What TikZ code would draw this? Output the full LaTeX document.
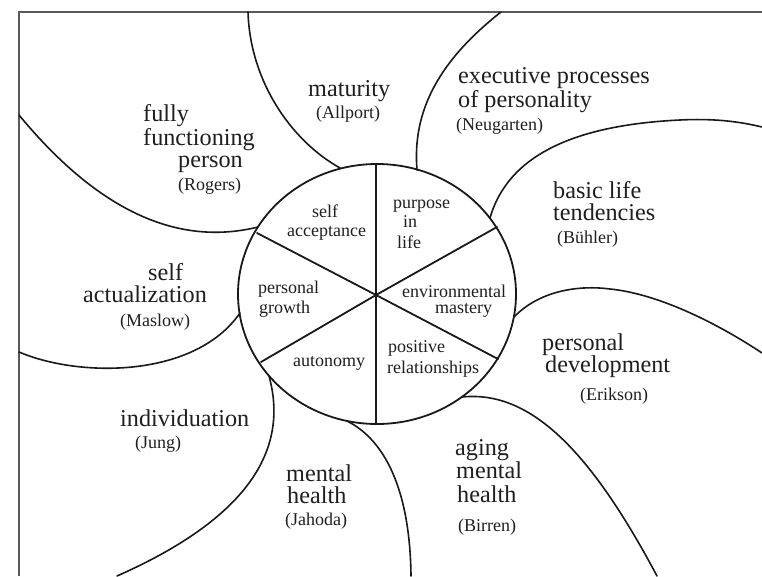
\documentclass[tikz,border=0pt]{standalone}
\usepackage{fontspec}
\setmainfont{Liberation Serif}
\begin{document}
\begin{tikzpicture}[x=1pt,y=-1pt,
  lblbig/.style={font=\fontsize{24.2}{26}\selectfont, anchor=base west, inner sep=0pt, text=black!88},
  lblsmall/.style={font=\fontsize{18}{20}\selectfont, anchor=base west, inner sep=0pt, text=black!88},
  petal/.style={line width=1.6pt, draw=black!90, line join=round, line cap=round},
  divider/.style={line width=1.8pt, draw=black!90, line cap=round},
  frameline/.style={line width=1.2pt, draw=black!65}]
\useasboundingbox (0,0) rectangle (762,576);
\fill[white] (0,0) rectangle (762,576);

% frame
\coordinate (tl) at (19,12);
\coordinate (tr) at (762,12);
\coordinate (bl) at (19,576);
\draw[frameline] (bl) -- (tl) -- (tr);

% central circle
\coordinate (ctr) at (377,294);
\coordinate (hub) at (376,295);
\draw[line width=1.8pt, draw=black!90] (ctr) ellipse [x radius=139pt, y radius=130pt];
\coordinate (vtop) at (376,164);
\coordinate (vbot) at (376,424);
\coordinate (dul) at (257,233);
\coordinate (dlr) at (498,359);
\coordinate (dll) at (261,362);
\coordinate (dur) at (497,227);
\draw[line width=1.4pt, draw=black!90] (vtop) -- (vbot);
\draw[divider] (dul) -- (hub) -- (dlr);
\draw[divider] (dll) -- (hub) -- (dur);

% petal boundaries
\coordinate (m0) at (248,12);   \coordinate (m1) at (340,168);
\coordinate (e0) at (501,12);   \coordinate (e1) at (417,170);
\coordinate (b0) at (490,218);  \coordinate (bm) at (680,120);  \coordinate (b1) at (762,127);
\coordinate (p0) at (514,317);  \coordinate (pm) at (610,289);  \coordinate (p1) at (762,353);
\coordinate (a0) at (462,397);  \coordinate (a1) at (657,576);
\coordinate (j0) at (347,421);  \coordinate (j1) at (411,576);
\coordinate (i0) at (269,376);  \coordinate (i1) at (117,576);
\coordinate (s0) at (19,352);   \coordinate (s1) at (240,313);
\coordinate (f0) at (19,115);   \coordinate (f1) at (258,227);

\draw[petal] (m0) .. controls (250,80) and (290,140) .. (m1);
\draw[petal] (e0) .. controls (440,60) and (412,110) .. (e1);
\draw[petal] (b0) .. controls (508,155) and (575,125) .. (bm) .. controls (720,118) and (745,123) .. (b1);
\draw[petal] (p0) .. controls (540,290) and (580,285) .. (pm) .. controls (660,294) and (720,325) .. (p1);
\draw[petal] (a0) .. controls (530,390) and (590,450) .. (a1);
\draw[petal] (j0) .. controls (385,440) and (410,490) .. (j1);
\draw[petal] (i0) .. controls (288,445) and (255,515) .. (i1);
\draw[petal] (s0) .. controls (80,378) and (195,378) .. (s1);
\draw[petal] (f0) .. controls (85,195) and (165,250) .. (f1);

% outer labels
\node[lblbig] (mat) at (308,96) {maturity};
\node[lblsmall] (matA) at (316,118) {(Allport)};
\node[lblbig] (exe1) at (458,83) {executive processes};
\node[lblbig] (exe2) at (458,107) {of personality};
\node[lblsmall] (exeA) at (456,130) {(Neugarten)};
\node[lblbig] (ffp1) at (143,121) {fully};
\node[lblbig] (ffp2) at (143,145) {functioning};
\node[lblbig] (ffp3) at (178,167) {person};
\node[lblsmall] (ffpA) at (178,190) {(Rogers)};
\node[lblbig] (sa1) at (148,280) {self};
\node[lblbig] (sa2) at (83,302) {actualization};
\node[lblsmall] (saA) at (120,326) {(Maslow)};
\node[lblbig] (ind) at (120,426) {individuation};
\node[lblsmall] (indA) at (135,448) {(Jung)};
\node[lblbig] (mh1) at (286,481) {mental};
\node[lblbig] (mh2) at (287,503) {health};
\node[lblsmall] (mhA) at (285,525) {(Jahoda)};
\node[lblbig] (blt1) at (553,198) {basic life};
\node[lblbig] (blt2) at (553,220) {tendencies};
\node[lblsmall] (bltA) at (557,243) {(Bühler)};
\node[lblbig] (pd1) at (542,350) {personal};
\node[lblbig] (pd2) at (545,372) {development};
\node[lblsmall] (pdA) at (580,400) {(Erikson)};
\node[lblbig] (amh1) at (455,455) {aging};
\node[lblbig] (amh2) at (456,478) {mental};
\node[lblbig] (amh3) at (457,502) {health};
\node[lblsmall] (amhA) at (458,531) {(Birren)};

% inner labels
\node[lblsmall] (in1) at (312,217) {self};
\node[lblsmall] (in2) at (287,236) {acceptance};
\node[lblsmall] (in3) at (393,208) {purpose};
\node[lblsmall] (in4) at (403,227) {in};
\node[lblsmall] (in5) at (397,248) {life};
\node[lblsmall] (in6) at (258,293) {personal};
\node[lblsmall] (in7) at (259,313) {growth};
\node[lblsmall] (in8) at (402,297) {environmental};
\node[lblsmall] (in9) at (435,313.5) {mastery};
\node[lblsmall] (in10) at (293,366) {autonomy};
\node[lblsmall] (in11) at (388,352) {positive};
\node[lblsmall] (in12) at (387,373) {relationships};
\end{tikzpicture}
\end{document}
